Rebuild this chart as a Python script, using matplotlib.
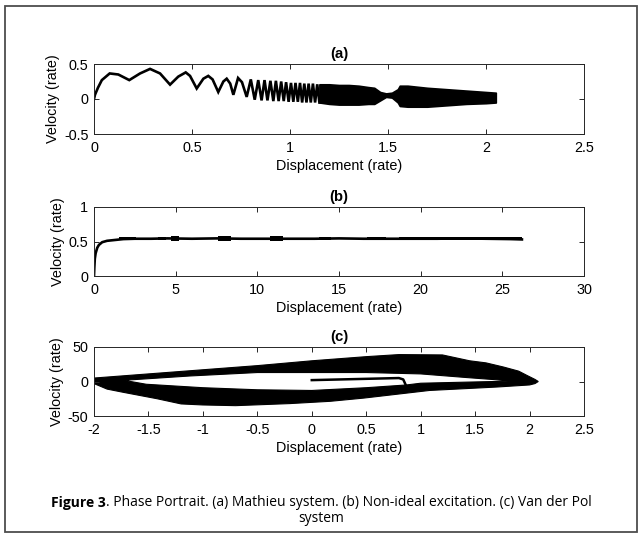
import matplotlib
matplotlib.use("Agg")
import matplotlib.pyplot as plt
import numpy as np
from matplotlib.path import Path
from matplotlib.patches import PathPatch, Rectangle

plt.rcParams['font.family'] = ['Liberation Sans', 'DejaVu Sans']
plt.rcParams['axes.unicode_minus'] = False

# ---------------- data ----------------
# (a) Mathieu system: sparse part of trajectory
a_x = [0.0, 0.005, 0.02, 0.04, 0.08, 0.124, 0.18, 0.235, 0.286, 0.337, 0.388, 0.43, 0.468, 0.49,
       0.524, 0.558, 0.583, 0.605, 0.634, 0.66, 0.677, 0.695, 0.711, 0.735, 0.755, 0.779, 0.80,
       0.82, 0.838, 0.855, 0.87, 0.885, 0.90, 0.915, 0.928, 0.942, 0.955, 0.968, 0.98, 0.993,
       1.005, 1.017, 1.028, 1.04, 1.051, 1.062, 1.073, 1.084, 1.095, 1.106, 1.117, 1.128, 1.139, 1.15]
a_y = [0.0, 0.06, 0.16, 0.27, 0.365, 0.35, 0.27, 0.365, 0.43, 0.365, 0.205, 0.32, 0.38, 0.33,
       0.15, 0.29, 0.33, 0.28, 0.10, 0.25, 0.29, 0.22, 0.06, 0.30, 0.24, 0.03, 0.28,
       -0.01, 0.27, -0.02, 0.27, -0.02, 0.26, -0.03, 0.26, -0.03, 0.25, -0.03, 0.24, -0.04,
       0.23, -0.04, 0.23, -0.04, 0.23, -0.05, 0.22, -0.05, 0.22, -0.05, 0.22, -0.05, 0.21, -0.05]
# (a) dense part: envelope of the trajectory band
a_band_x = [1.15, 1.2, 1.25, 1.3, 1.35, 1.4, 1.43, 1.46, 1.49, 1.52, 1.55, 1.56, 1.6, 1.7, 1.8, 1.9, 2.0, 2.05]
a_band_hi = [0.21, 0.21, 0.20, 0.20, 0.19, 0.17, 0.16, 0.10, 0.08, 0.09, 0.14, 0.19, 0.19, 0.16, 0.14, 0.12, 0.10, 0.09]
a_band_lo = [-0.05, -0.07, -0.08, -0.08, -0.08, -0.07, -0.07, -0.02, 0.03, 0.02, -0.05, -0.10, -0.11, -0.11, -0.09, -0.07, -0.06, -0.05]

# (b) Non-ideal excitation
b_x = [0.0, 0.02, 0.05, 0.1, 0.2, 0.3, 0.5, 0.8, 1.2, 1.8, 2.5, 3.5, 4.5, 6.0, 7.5, 9.0, 10.5,
       12.0, 13.5, 15.0, 16.5, 18.0, 19.5, 21.0, 22.5, 24.0, 25.5, 26.2]
b_y = [0.0, 0.12, 0.25, 0.33, 0.41, 0.45, 0.49, 0.51, 0.52, 0.535, 0.54, 0.54, 0.545, 0.54, 0.545, 0.54, 0.54,
       0.54, 0.54, 0.545, 0.54, 0.54, 0.54, 0.54, 0.545, 0.54, 0.535, 0.53]
# thicker (beating) stretches of the (b) trajectory
b_blob_x0 = [1.5, 3.9, 4.7, 7.6, 10.8, 13.8, 16.7, 18.7]
b_blob_x1 = [2.6, 4.4, 5.2, 8.4, 11.6, 14.5, 17.9, 26.2]
b_blob_lo = [0.52, 0.515, 0.51, 0.51, 0.505, 0.52, 0.515, 0.515]
b_blob_hi = [0.565, 0.57, 0.575, 0.575, 0.58, 0.565, 0.565, 0.56]

# (c) Van der Pol system: region swept by the trajectory (outer edge and inner hole)
c_outer_x = [-2.0, -1.5, -1.0, -0.5, 0.0, 0.5, 0.8, 1.2, 1.45, 1.6, 1.76, 1.9, 1.98, 2.05, 2.08,
             2.05, 2.0, 1.7, 1.08, 0.48, 0.17, -0.2, -0.7, -1.0, -1.2, -1.42, -1.73, -1.88, -2.0]
c_outer_y = [5, 11, 17, 23, 30, 36, 39, 38.5, 30, 27, 21, 15, 8.5, 3, 0,
             -3, -5, -8, -13, -24, -28.7, -32, -35, -34, -32.5, -25, -15.7, -11, -3]
c_hole_x = [-1.7, -1.12, -0.5, 0.1, 0.5, 1.0, 1.4, 1.82,
            1.82, 1.4, 1.0, 0.87, 0.5, 0.0, -0.5, -1.0, -1.52, -1.7]
c_hole_y = [2, 8, 13, 13, 13, 11, 6, 1,
            0.5, -1, -2.5, -5, -9, -13, -12, -9, -4, 1]
# initial transient of the trajectory inside the hole
c_start_x = [0.0, 0.8, 0.84, 0.86]
c_start_y = [2.0, 5.0, 3.0, -4.0]

# axis settings
a_xticks = [0, 0.5, 1, 1.5, 2, 2.5]
a_yticks = [-0.5, 0, 0.5]
b_xticks = [0, 5, 10, 15, 20, 25, 30]
b_yticks = [0, 0.5, 1]
c_xticks = [-2, -1.5, -1, -0.5, 0, 0.5, 1, 1.5, 2, 2.5]
c_yticks = [-50, 0, 50]

# ---------------- figure ----------------
W, H = 643, 537
fig = plt.figure(figsize=(W / 100, H / 100), dpi=100)

# outer frame
fig.patches.append(Rectangle((5 / W, 5 / H), 632 / W, 526 / H, transform=fig.transFigure,
                             fill=False, edgecolor='#4d4d4d', lw=1.3))

def make_ax(top_px, bottom_px):
    left, right = 94, 584
    return fig.add_axes([left / W, (H - bottom_px) / H, (right - left) / W, (bottom_px - top_px) / H])

axa = make_ax(64, 134)
axb = make_ax(207, 276)
axc = make_ax(347, 416)

FS = 10.4

def style(ax, xt, yt, title):
    ax.set_xticks(xt)
    ax.set_yticks(yt)
    ax.set_xticklabels(['%g' % v for v in xt])
    ax.set_yticklabels(['%g' % v for v in yt])
    ax.set_xlim(xt[0], xt[-1])
    ax.set_ylim(yt[0], yt[-1])
    ax.tick_params(direction='in', top=True, right=True, length=3.5, width=0.7,
                   labelsize=FS, colors='#262626', labelcolor='black')
    ax.tick_params(axis='x', pad=5)
    ax.tick_params(axis='y', pad=4)
    for sp in ax.spines.values():
        sp.set_color('#262626')
        sp.set_linewidth(0.7)
    ax.set_xlabel('Displacement (rate)', fontsize=FS, labelpad=3)
    ax.set_ylabel('Velocity (rate)', fontsize=FS, labelpad=3)
    ax.set_title(title, fontsize=FS + 0.3, fontweight='bold', pad=4)

# (a)
axa.plot(a_x, a_y, color='black', lw=1.9, solid_joinstyle='miter')
axa.fill_between(a_band_x, a_band_lo, a_band_hi, color='black', lw=1.2, edgecolor='black')
style(axa, a_xticks, a_yticks, '(a)')

# (b)
axb.plot(b_x, b_y, color='black', lw=1.9)
for x0, x1, lo, hi in zip(b_blob_x0, b_blob_x1, b_blob_lo, b_blob_hi):
    axb.fill_between([x0, x1], [lo, lo], [hi, hi], color='black', lw=0)
style(axb, b_xticks, b_yticks, '(b)')

# (c)
outer = list(zip(c_outer_x, c_outer_y))
hole = list(zip(c_hole_x, c_hole_y))[::-1]
verts = outer + [outer[0]] + hole + [hole[0]]
codes = ([Path.MOVETO] + [Path.LINETO] * (len(outer) - 1) + [Path.CLOSEPOLY] +
         [Path.MOVETO] + [Path.LINETO] * (len(hole) - 1) + [Path.CLOSEPOLY])
axc.add_patch(PathPatch(Path(verts, codes), facecolor='black', edgecolor='black', lw=0.8))
axc.plot(c_start_x, c_start_y, color='black', lw=1.8)
style(axc, c_xticks, c_yticks, '(c)')

# caption with bold lead-in
cap_font = ['Open Sans', 'DejaVu Sans']
CFS = 10.0
line1_bold = 'Figure 3'
line1_rest = '. Phase Portrait. (a) Mathieu system. (b) Non-ideal excitation. (c) Van der Pol'
r = fig.canvas.get_renderer()
tb = fig.text(0, 0, line1_bold, fontsize=CFS, family=cap_font, fontweight='bold')
tr = fig.text(0, 0, line1_rest, fontsize=CFS, family=cap_font)
wb = tb.get_window_extent(r).width
wr = tr.get_window_extent(r).width
x_start = (W / 2 - (wb + wr) / 2) / W
y1 = (H - 503) / H
tb.set_position((x_start, y1))
tb.set_va('center')
tr.set_position((x_start + wb / W, y1))
tr.set_va('center')
fig.text(0.5, (H - 518) / H, 'system', fontsize=CFS, family=cap_font, ha='center', va='center')

fig.savefig('out.png', dpi=100, facecolor='white')
